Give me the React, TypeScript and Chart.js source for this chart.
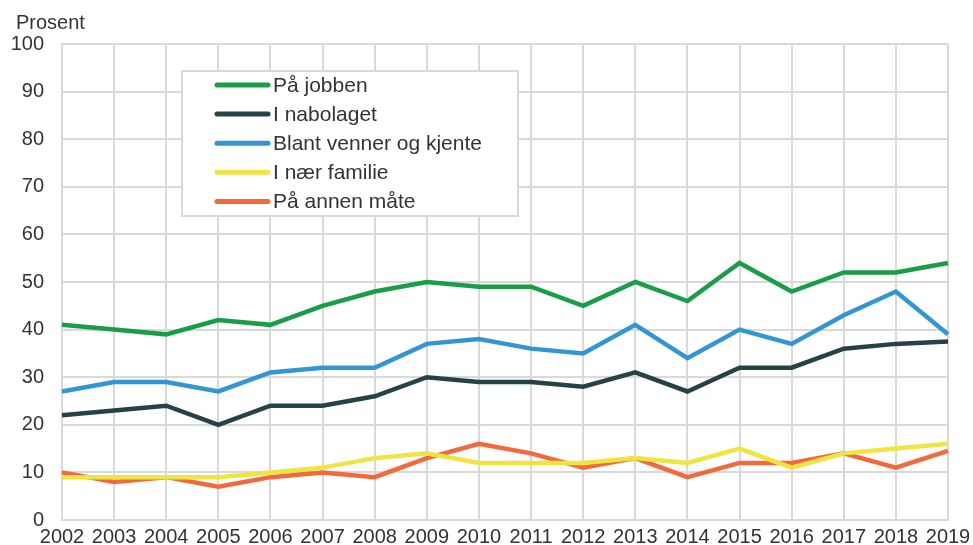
import React, { useEffect, useRef } from "react";
import { Chart, registerables } from "chart.js";

Chart.register(...registerables);

const years = ["2002","2003","2004","2005","2006","2007","2008","2009","2010","2011","2012","2013","2014","2015","2016","2017","2018","2019"];
const paJobben = [41, 40, 39, 42, 41, 45, 48, 50, 49, 49, 45, 50, 46, 54, 48, 52, 52, 54];
const iNabolaget = [22, 23, 24, 20, 24, 24, 26, 30, 29, 29, 28, 31, 27, 32, 32, 36, 37, 37.5];
const blantVenner = [27, 29, 29, 27, 31, 32, 32, 37, 38, 36, 35, 41, 34, 40, 37, 43, 48, 39];
const iNaerFamilie = [9, 9, 9, 9, 10, 11, 13, 14, 12, 12, 12, 13, 12, 15, 11, 14, 15, 16];
const paAnnenMate = [10, 8, 9, 7, 9, 10, 9, 13, 16, 14, 11, 13, 9, 12, 12, 14, 11, 14.5];
const seriesLabels = ["På jobben", "I nabolaget", "Blant venner og kjente", "I nær familie", "På annen måte"];
const seriesColors = ["#1a9d49", "#274247", "#3396d3", "#f0e440", "#f26a3b"];
const yAxisTitle = "Prosent";

const FONT = "'Liberation Sans', Arial, sans-serif";
const TEXT = "#333333";
const GRID = "#d9d9d9";

export default function App() {
  const ref = useRef<HTMLCanvasElement>(null);
  useEffect(() => {
    document.body.style.margin = "0";
    const values = [paJobben, iNabolaget, blantVenner, iNaerFamilie, paAnnenMate];
    const overlay = {
      id: "overlay",
      afterDraw(chart: any) {
        const ctx = chart.ctx;
        ctx.save();
        ctx.fillStyle = TEXT;
        ctx.font = `20px ${FONT}`;
        ctx.textBaseline = "alphabetic";
        ctx.textAlign = "left";
        ctx.fillText(yAxisTitle, 16, 29);
        // legend box
        const bx = 182, by = 71, bw = 336, bh = 145;
        ctx.fillStyle = "#ffffff";
        ctx.fillRect(bx, by, bw, bh);
        ctx.strokeStyle = GRID;
        ctx.lineWidth = 2;
        ctx.strokeRect(bx, by, bw, bh);
        ctx.font = `21px ${FONT}`;
        ctx.textBaseline = "middle";
        chart.data.datasets.forEach((ds: any, i: number) => {
          const y = 85 + i * 29.1;
          ctx.strokeStyle = ds.borderColor;
          ctx.lineWidth = 5;
          ctx.lineCap = "round";
          ctx.beginPath();
          ctx.moveTo(217, y);
          ctx.lineTo(268, y);
          ctx.stroke();
          ctx.fillStyle = TEXT;
          ctx.fillText(ds.label, 273, y + 1);
        });
        ctx.restore();
      },
    };
    const chart = new Chart(ref.current!, {
      type: "line",
      data: {
        labels: years,
        datasets: values.map((v, i) => ({
          label: seriesLabels[i],
          data: v,
          borderColor: seriesColors[i],
          backgroundColor: seriesColors[i],
          borderWidth: 4.5,
          pointRadius: 0,
          tension: 0,
          fill: false,
        })),
      },
      options: {
        responsive: false,
        animation: false,
        layout: { padding: { left: 0, right: 25, top: 44, bottom: 0 } },
        plugins: { legend: { display: false }, tooltip: { enabled: false } },
        scales: {
          x: {
            offset: false,
            grid: { color: GRID, lineWidth: 2, drawTicks: false },
            border: { color: GRID, width: 2 },
            ticks: {
              color: TEXT,
              font: { family: FONT, size: 20 },
              padding: 5,
              autoSkip: false,
              maxRotation: 0,
            },
            afterFit: (s: any) => { s.height = 25; s.paddingLeft = 0; s.paddingRight = 0; },
          },
          y: {
            min: 0,
            max: 100,
            grid: { color: GRID, lineWidth: 2, drawTicks: false },
            border: { color: GRID, width: 2 },
            ticks: {
              stepSize: 10,
              color: TEXT,
              font: { family: FONT, size: 20 },
              padding: 18,
            },
            afterFit: (s: any) => { s.width = 62; s.paddingTop = 0; s.paddingBottom = 0; },
          },
        },
      },
      plugins: [overlay],
    });
    return () => chart.destroy();
  }, []);
  return <canvas ref={ref} width={973} height={545} style={{ display: "block" }} />;
}
